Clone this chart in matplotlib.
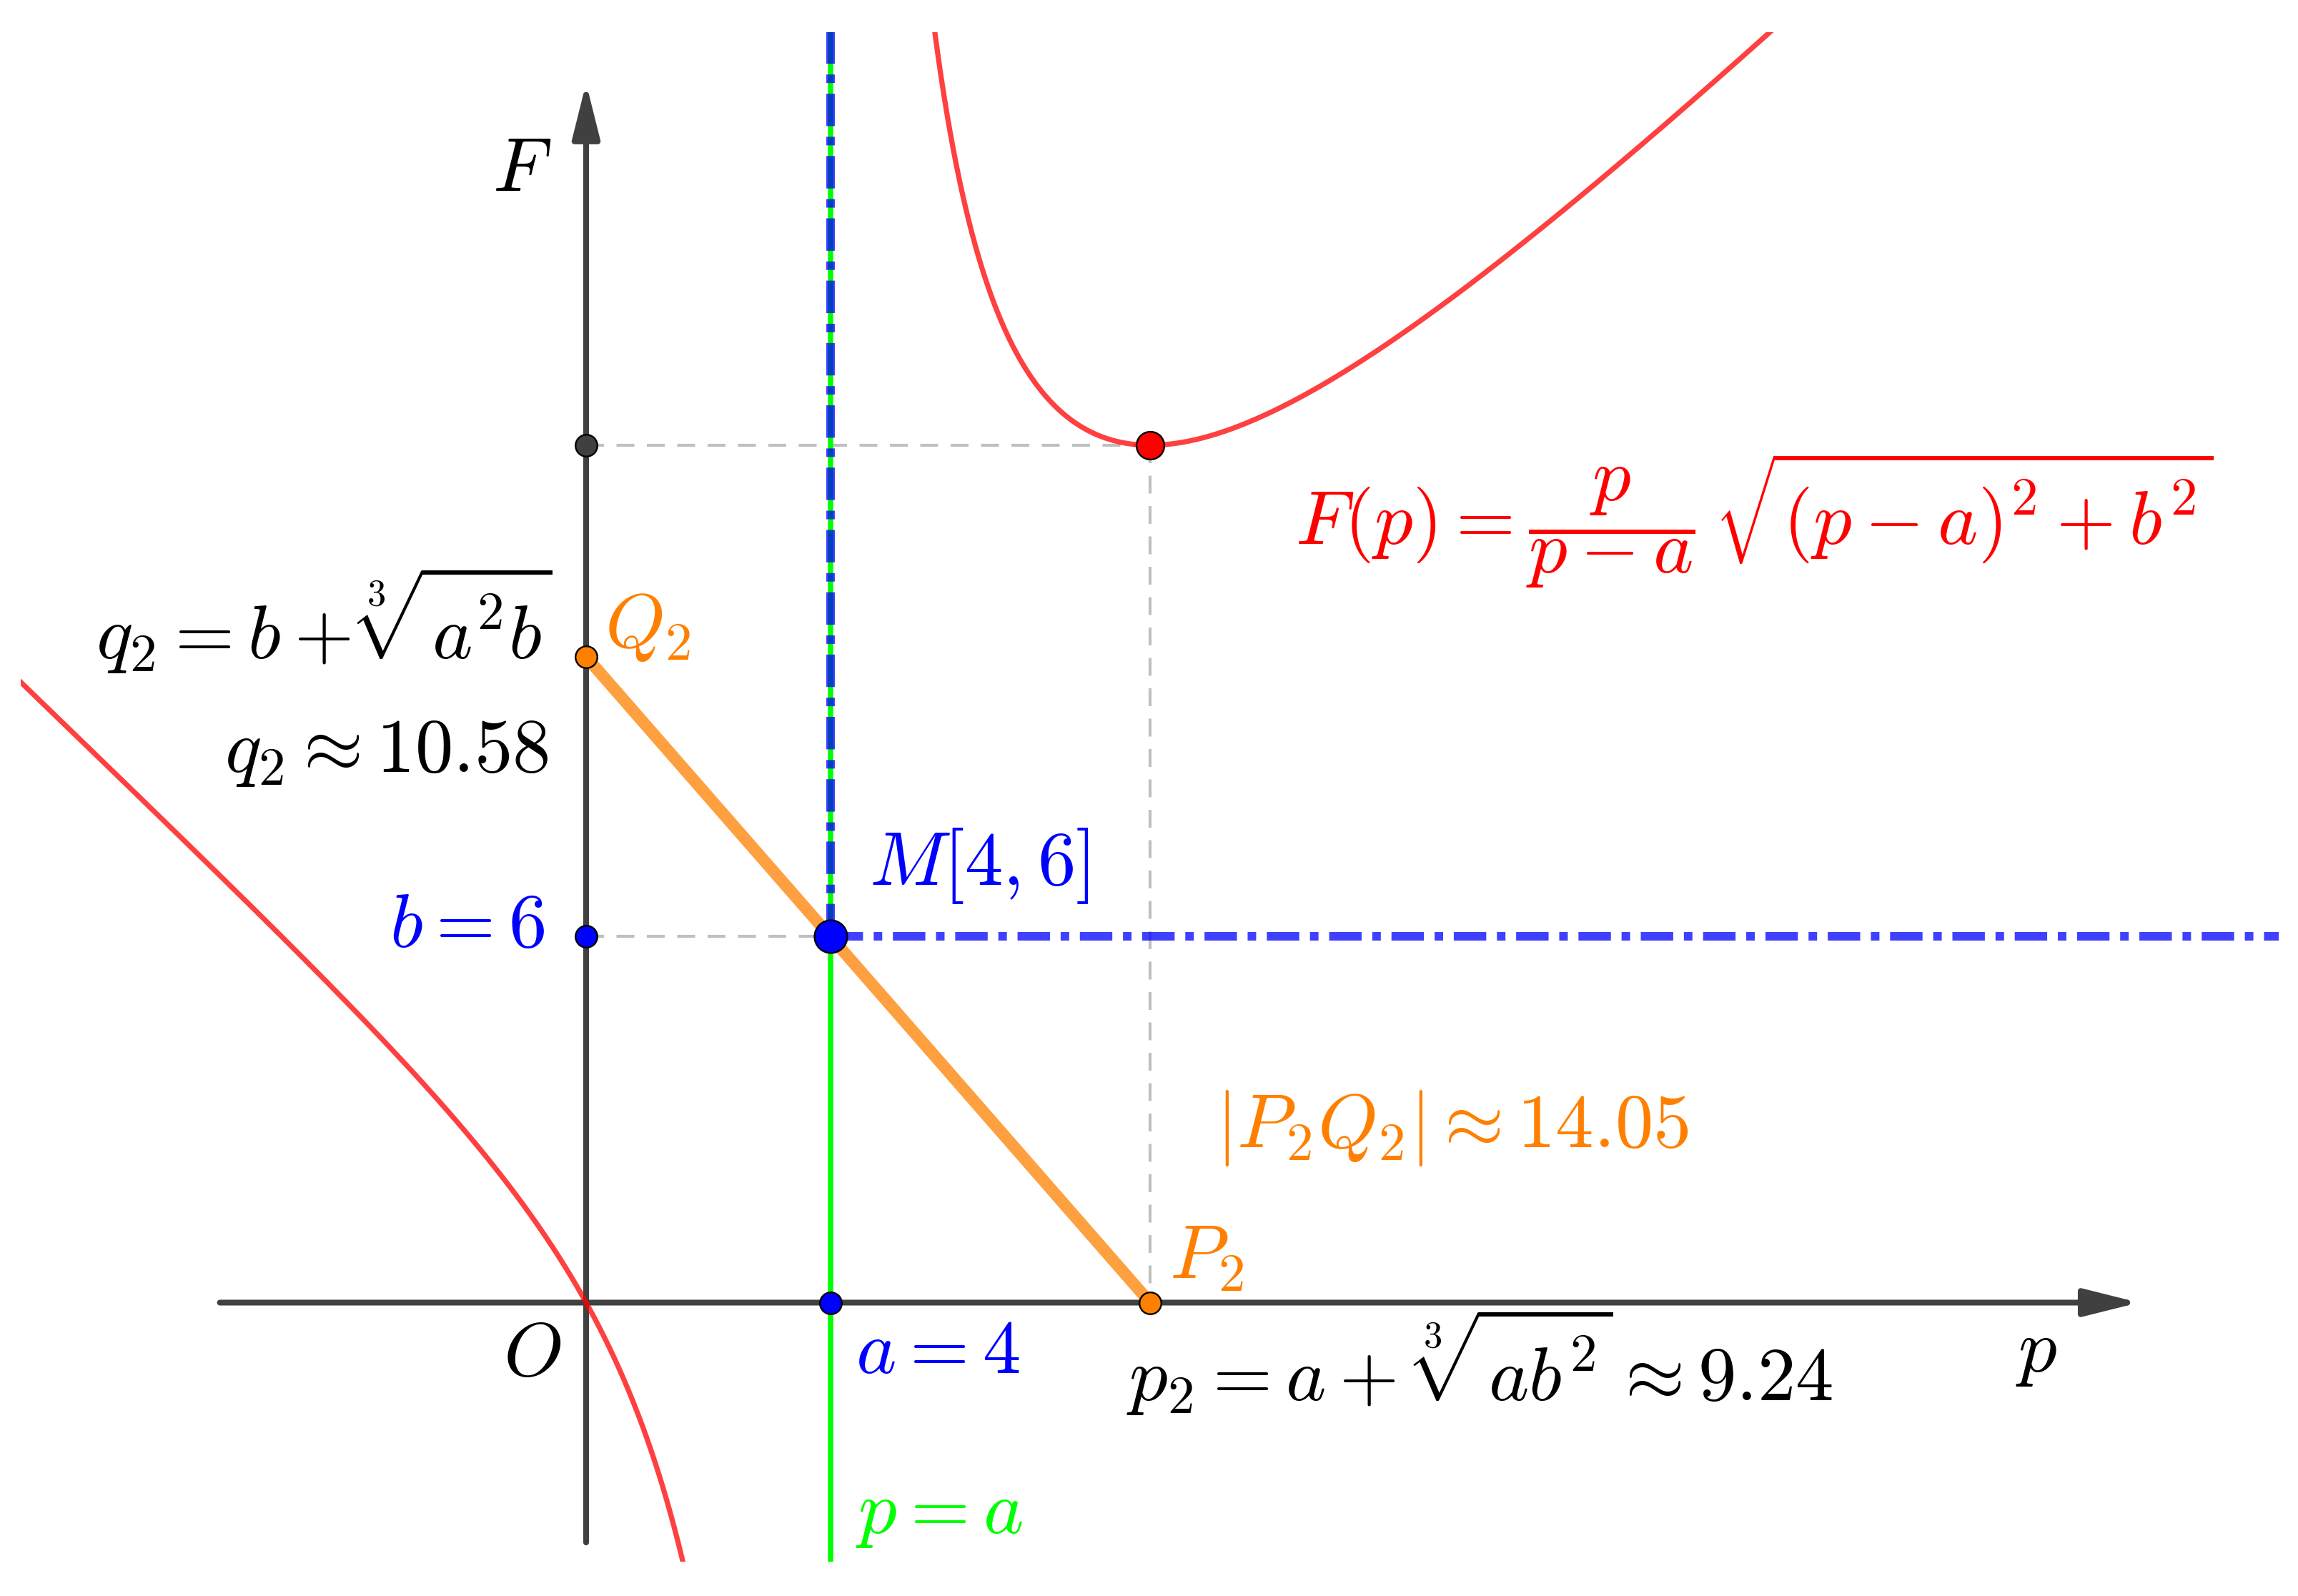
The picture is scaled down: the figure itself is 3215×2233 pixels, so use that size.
import numpy as np
import matplotlib
matplotlib.use("Agg")
import matplotlib.pyplot as plt

# ---------------- data ----------------
a = 4.0            # p-coordinate of M
b = 6.0            # F-coordinate of M
p2 = 9.24          # minimiser  p2 = a + cbrt(a b^2)
q2 = 10.58         # q2 = b + cbrt(a^2 b)
F_min = 14.05      # |P2 Q2| = F(p2)

# curve samples (p values) for the two branches of F(p)
p_left = np.linspace(-10.0, a - 0.02, 3000)
p_right = np.linspace(a + 0.02, 30.0, 3000)

def F(p):
    return p / (p - a) * np.sqrt((p - a) ** 2 + b ** 2)

# ---------------- layout ----------------
W, H = 3215, 2233
DPI = 100
ORX, ORY = 820.0, 1822.5      # pixel of origin
UNIT = 85.4                   # pixels per unit
VIEW_L, VIEW_R, VIEW_T, VIEW_B = 29, 3188, 45, 2185

plt.rcParams['mathtext.fontset'] = 'cm'
plt.rcParams['font.family'] = ['DejaVu Sans']

fig = plt.figure(figsize=(W / DPI, H / DPI), dpi=DPI)
fig.patch.set_facecolor('white')
ax = fig.add_axes([VIEW_L / W, (H - VIEW_B) / H, (VIEW_R - VIEW_L) / W, (VIEW_B - VIEW_T) / H])
ax.set_xlim((VIEW_L - ORX) / UNIT, (VIEW_R - ORX) / UNIT)
ax.set_ylim(-(VIEW_B - ORY) / UNIT, (ORY - VIEW_T) / UNIT)
ax.axis('off')
ymax = (ORY - VIEW_T) / UNIT
ymin = -(VIEW_B - ORY) / UNIT
xmax = (VIEW_R - ORX) / UNIT

AXC = '#404040'
BLUE = '#0000ff'
ORANGE = '#ff8000'
RED = '#ff0000'
GREEN = '#00ff00'
GRAY = '#c0c0c0'

# gray dashed helper lines
dkw = dict(color=GRAY, lw=3.0, dashes=(6.0, 4.2), dash_capstyle='butt', zorder=1)
ax.plot([0, p2], [F_min, F_min], **dkw)
ax.plot([p2, p2], [F_min, 0], **dkw)
ax.plot([0, a], [b, b], **dkw)

# axes with arrows
arrow_style = '-|>,head_length=0.4,head_width=0.1'
ax.annotate('', xy=(25.44, 0), xytext=(-6.0, 0),
            arrowprops=dict(arrowstyle=arrow_style, color=AXC,
                            lw=5.8, shrinkA=0, shrinkB=0, mutation_scale=117), zorder=2)
ax.annotate('', xy=(0, 19.98), xytext=(0, -3.93),
            arrowprops=dict(arrowstyle=arrow_style, color=AXC,
                            lw=5.8, shrinkA=0, shrinkB=0, mutation_scale=117), zorder=2)

# asymptote p = a
ax.plot([a, a], [ymin, ymax], color=GREEN, lw=5.4, zorder=3)

# blue dash-dot lines through M
bkw = dict(color=BLUE, alpha=0.75, lw=8.6, dashes=(3.8, 1.25, 1.0, 1.25), dash_capstyle='butt', zorder=4)
ax.plot([a, a], [b, ymax], **bkw)
ax.plot([a, xmax + 1], [b, b], **bkw)

# F(p) curve
ax.plot(p_left, F(p_left), color=RED, alpha=0.75, lw=5.2, zorder=5)
ax.plot(p_right, F(p_right), color=RED, alpha=0.75, lw=5.2, zorder=5)

# segment P2 Q2
ax.plot([0, p2], [q2, 0], color=ORANGE, alpha=0.75, lw=12, solid_capstyle='butt', zorder=6)

# points
mkw = dict(markeredgecolor='black', markeredgewidth=1.7, zorder=8, linestyle='none')
ax.plot([0, a], [b, 0], 'o', markerfacecolor=BLUE, markersize=22, **mkw)
ax.plot([a], [b], 'o', markerfacecolor=BLUE, markersize=33, **mkw)
ax.plot([p2, 0], [0, q2], 'o', markerfacecolor=ORANGE, markersize=22, **mkw)
ax.plot([0], [F_min], 'o', markerfacecolor=AXC, markersize=22, **mkw)
ax.plot([p2], [F_min], 'o', markerfacecolor=RED, markersize=28, **mkw)

# texts
FS = 77
tkw = dict(fontsize=FS, va='baseline', zorder=10)
ax.text(-1.05, 18.21, r'$F$', ha='center', color='black', **tkw)
ax.text(-0.88, -1.20, r'$O$', ha='center', color='black', **tkw)
ax.text(23.76, -1.13, r'$p$', ha='center', color='black', **tkw)
ax.text(-0.55, 10.54, r'$q_2 = b + \sqrt[3]{a^2b}$', ha='right', color='black', **tkw)
ax.text(-0.62, 8.69, r'$q_2 \approx 10.58$', ha='right', color='black', **tkw)
ax.text(0.30, 10.74, r'$Q_2$', ha='left', color=ORANGE, **tkw)
ax.text(-0.68, 5.83, r'$b = 6$', ha='right', color=BLUE, **tkw)
ax.text(4.64, 6.84, r'$M[4,6]$', ha='left', color=BLUE, **tkw)
ax.text(4.41, -1.15, r'$a = 4$', ha='left', color=BLUE, **tkw)
ax.text(4.41, -3.78, r'$p = a$', ha='left', color=GREEN, **tkw)
ax.text(8.85, -1.61, r'$p_2 = a + \,\sqrt[3]{ab^2} \approx 9.24$', ha='left', color='black', **tkw)
ax.text(9.56, 0.40, r'$P_2$', ha='left', color=ORANGE, **tkw)
ax.text(10.32, 2.55, r'$|P_2Q_2| \approx 14.05$', ha='left', color=ORANGE, **tkw)
ax.text(11.62, 12.42, r'$F(p) = \dfrac{p}{p-a}\,\sqrt{(p-a)^2+b^2}$', ha='left', color=RED, **tkw)

fig.savefig('out.png', dpi=DPI, facecolor='white')
